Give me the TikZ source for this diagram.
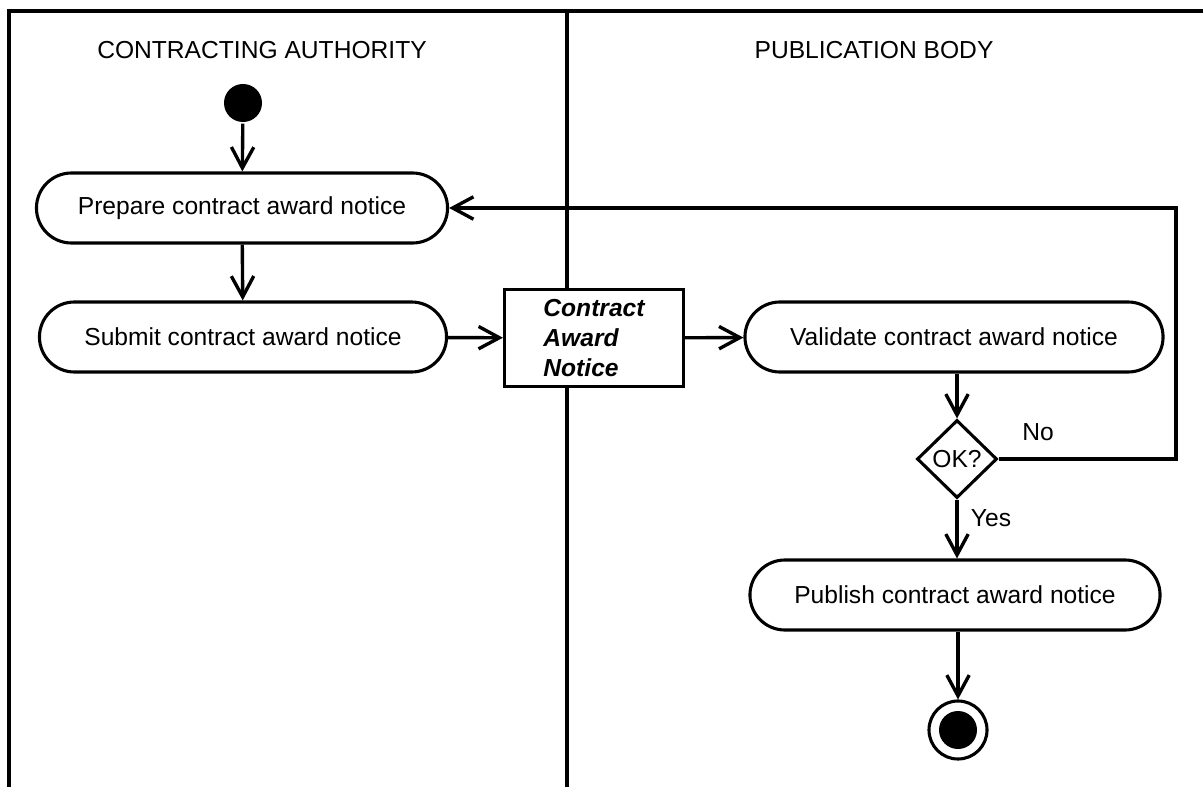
\documentclass[tikz,border=0pt]{standalone}
\usepackage{fontspec}
\setmainfont{Liberation Sans}
\usetikzlibrary{arrows.meta,shapes.geometric}
\begin{document}
\begin{tikzpicture}[x=0.025cm, y=-0.025cm, >={Straight Barb[length=5.2mm,width=5.6mm]}, line width=2.4pt,
  font=\fontsize{17.5}{21}\selectfont,
  act/.style={draw, rounded corners=8.75mm, minimum height=17.5mm, line width=2.2pt},
  obj/.style={draw, fill=white, minimum width=44.75mm, minimum height=24.25mm, align=left, line width=2.2pt, font=\fontsize{17.5}{21.3}\selectfont\bfseries\itshape},
  dec/.style={draw, diamond, aspect=1, minimum width=20mm, minimum height=19.5mm, inner sep=0pt, line width=2.2pt}]
\useasboundingbox (0,0) rectangle (1203,787);
\draw [line width=2.8pt] (1203,11)--(9,11)--(9,787);
\draw [line width=2.8pt] (567,11)--(567,787);
\node (ca) at (262,50){CONTRACTING AUTHORITY};
\node (pb) at (874,50){PUBLICATION BODY};

\node (start) [circle, fill, minimum size=9.5mm, inner sep=0pt] at (243,103){};
\node (prep) [act, minimum width=102.75mm] at (242,208){Prepare contract award notice};
\node (submit) [act, minimum width=101.75mm] at (243,337){Submit contract award notice};
\node (notice) [obj] at (594,338){Contract\\Award\\Notice};
\node (valid) [act, minimum width=104.5mm] at (954,337){Validate contract award notice};
\node (ok) [dec] at (957,459){OK?};
\node (publish) [act, minimum width=102.5mm] at (955,595){Publish contract award notice};
\node (end) [circle, draw, minimum size=14.5mm, line width=2.2pt] at (958,730){};
\node (endin) [circle, fill, minimum size=9.5mm, inner sep=0pt] at (end){};
\coordinate (back) at (1176,459);

\draw [->] (start)--(prep);
\draw [->] (prep)--(submit);
\draw [->] (submit)--(notice);
\draw [->] (notice)--(valid);
\draw [->] (valid.south -| ok)--(ok);
\draw [->] (ok)--(back)|-(prep);
\draw [->] (ok)--(publish.north -| ok);
\draw [->] (publish.south -| end)--(end);
\node (no) at (1038,432){No};
\node (yes) at (991,518){Yes};
\end{tikzpicture}
\end{document}
